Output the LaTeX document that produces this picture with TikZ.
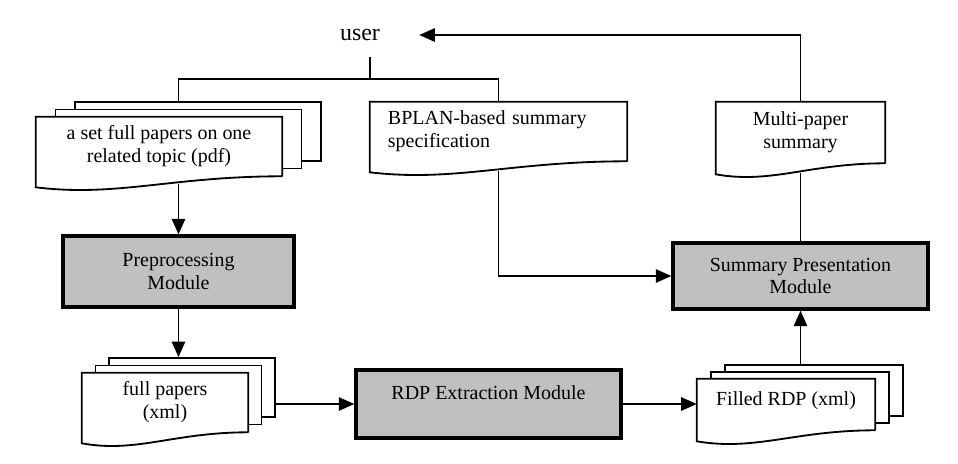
\documentclass[tikz,border=0pt]{standalone}
\usepackage{fontspec}
\setmainfont{Liberation Serif}
\usetikzlibrary{arrows.meta, positioning, calc}
\definecolor{modgray}{RGB}{192,192,192}
\tikzset{
  module/.style={rectangle, draw=black, line width=2.4pt, fill=modgray,
                 align=center, inner sep=0pt,
                 font=\fontsize{14.2pt}{16.3pt}\selectfont},
  sheet/.style={rectangle, draw=black, line width=1.3pt, fill=white},
  doc/.style={rectangle, fill=white, align=center, inner sep=0pt,
              font=\fontsize{14.2pt}{16.3pt}\selectfont},
  docline/.style={line width=1.3pt, line join=miter},
  line/.style={line width=1.2pt},
  arr/.style={-{Triangle[length=11pt, width=9.5pt]}, line width=1.2pt},
}
% outline of a document sheet with a wavy bottom edge
\newcommand{\docwave}[1]{%
  \draw[docline] (#1.south east) -- (#1.north east) -- (#1.north west)
    -- ($(#1.south west)+(0,11)$)
    .. controls ($(#1.south west)!0.33!(#1.south east)+(0,21)$)
    and ($(#1.south west)!0.55!(#1.south east)$) .. (#1.south east);}

\begin{document}
\begin{tikzpicture}[x=0.025cm, y=-0.025cm]
  \useasboundingbox (0,0) rectangle (958,463);

  % Top: user
  \node[font=\fontsize{17pt}{20pt}\selectfont, inner sep=0pt,
        minimum width=2.95cm, minimum height=1.1cm] (user) at (360,35) {user};
  \coordinate (split) at (370,79);

  % Row 1: inputs and output
  \node[sheet, minimum width=6.15cm, minimum height=1.475cm] (pdf3) at (198,131.5) {};
  \node[sheet, minimum width=6.15cm, minimum height=1.475cm] (pdf2) at (178.5,139) {};
  \node[doc, minimum width=6.15cm, minimum height=1.475cm] (pdfs) at (159,146.5)
    {a set full papers on one\\related topic (pdf)};
  \docwave{pdfs}

  \node[doc, align=left, text width=5.525cm, minimum width=6.425cm,
        minimum height=1.475cm] (spec) at (498.5,131.5)
    {BPLAN-based summary\\specification};
  \docwave{spec}

  \node[doc, minimum width=4.225cm, minimum height=1.525cm] (mp) at (800.5,132.5)
    {Multi-paper\\summary};
  \docwave{mp}

  % Row 2: modules
  \node[module, minimum width=5.775cm, minimum height=1.775cm] (pp) at (178.5,271.5)
    {Preprocessing\\Module};
  \node[module, minimum width=6.375cm, minimum height=1.65cm] (sp) at (800.5,276)
    {Summary Presentation\\Module};

  % Row 3: intermediate data
  \node[sheet, minimum width=4.15cm, minimum height=1.475cm] (xml3) at (192,387.5) {};
  \node[sheet, minimum width=4.15cm, minimum height=1.475cm] (xml2) at (178.5,395) {};
  \node[doc, minimum width=4.15cm, minimum height=1.475cm] (xmls) at (165,402.5)
    {full papers\\(xml)};
  \docwave{xmls}

  \node[module, minimum width=6.625cm, minimum height=1.7cm] (rdp) at (488.5,404)
    {RDP Extraction Module\\\mbox{}};

  \node[sheet, minimum width=4.45cm, minimum height=1.275cm] (fill3) at (814,390.5) {};
  \node[sheet, minimum width=4.45cm, minimum height=1.275cm] (fill2) at (800,397.5) {};
  \node[doc, minimum width=4.45cm, minimum height=1.275cm] (fills) at (786,404.5)
    {Filled RDP (xml)\\[-8pt]\mbox{}};
  \docwave{fills}

  % Arrows
  \draw[line] (user.south -| split) -- (split);
  \draw[line] (pdf2.north |- pdf3.north) |- (split) -| (spec.north);
  \draw[arr] (pp.north |- pdfs.south) ++(0,8) -- (pp.north);
  \draw[arr] (pp.south) -- (pp.south |- xml3.north);
  \draw[arr] (xml3.east |- rdp.west) -- (rdp.west);
  \draw[arr] (rdp.east) -- (rdp.east -| fills.west);
  \draw[arr] (sp.south |- fill3.north) -- (sp.south);
  \draw[arr] (spec.south) ++(0,10) |- (sp.west);
  \draw[line] (mp.south) ++(0,10) -- (sp.north);

  % Back to the user
  \draw[arr] (mp.north) |- (user.east);
\end{tikzpicture}
\end{document}
